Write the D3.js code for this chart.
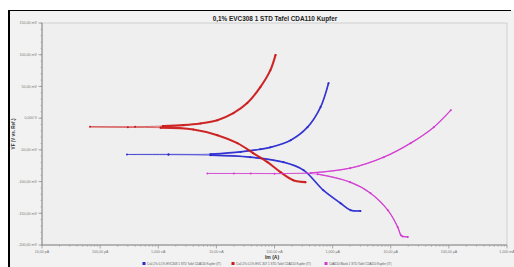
<!DOCTYPE html>
<html>
<head>
<meta charset="utf-8">
<script src="https://cdnjs.cloudflare.com/ajax/libs/d3/7.9.0/d3.min.js"></script>
<style>
  body { margin: 0; background: #fff; }
  svg text { font-family: "Liberation Sans", Arial, sans-serif; }
</style>
</head>
<body>
<div id="chart"></div>
<script>
// series names (legend)
const seriesNames = [
  "Cu0,1% 0,1% EVC308 1 STD Tafel CDA110 Kupfer (IT)",
  "Cu0,1% 0,1% EVC 307 1 STD Tafel CDA110 Kupfer (IT)",
  "CdA110 Blank 1 STD Tafel CDA110 Kupfer (IT)"
];
const seriesColors = ["#2a2ad0", "#cc1a1a", "#d23ad2"];

// current (A) and potential (mV), cathodic end -> tip -> anodic end
const blueI = [3.0e-6, 2.04e-6, 1.37e-6, 6.9e-7, 3.16e-7, 1.43e-7, 3.8e-8, 7.9e-9, 1.5e-9, 2.9e-10,
               1.5e-9, 7.9e-9, 2.6e-8, 5.7e-8, 8.5e-8, 1.9e-7, 3.7e-7, 6.2e-7, 8.5e-7];
const blueE = [-146.2, -145.1, -134.1, -113.6, -82.0, -69.4, -61.5, -58.4, -57.6, -57.3,
               -57.0, -56.8, -53.2, -49.0, -46.0, -34.7, -14.2, 17.4, 55.2];

const redI = [3.4e-7, 2.1e-7, 1.27e-7, 7.6e-8, 4.3e-8, 2.3e-8, 1.04e-8, 4.0e-9, 1.1e-9, 3e-10, 6.7e-11,
              4e-10, 1.2e-9, 2.7e-9, 5.3e-9, 1.04e-8, 1.96e-8, 3.4e-8, 5.7e-8, 8.5e-8, 1.04e-7];
const redE = [-100.9, -97.8, -85.2, -69.4, -55.2, -39.4, -26.8, -17.8, -15.0, -14.5, -13.7,
              -13.5, -12.5, -11.0, -8.4, -3.2, 7.9, 23.7, 48.9, 75.7, 99.4];

const magI = [1.96e-5, 1.6e-5, 1.49e-5, 1.32e-5, 8.9e-6, 4.5e-6, 2.0e-6, 5.5e-7, 1e-7, 2e-8, 7.0e-9,
              3.9e-8, 4.2e-7, 2.0e-6, 7.6e-6, 2.2e-5, 5.5e-5, 1.08e-4];
const magE = [-187.2, -186.5, -184.5, -171.9, -145.1, -118.3, -100.9, -88.3, -87.5, -87.3, -87.2,
              -87.2, -86.3, -78.9, -61.5, -39.4, -14.2, 12.6];

const xTickVals = [1e-11, 1e-10, 1e-9, 1e-8, 1e-7, 1e-6, 1e-5, 1e-4, 1e-3];
const xTickLabels = ["10,00 pA", "100,00 pA", "1,000 nA", "10,00 nA", "100,00 nA", "1,000 µA", "10,00 µA", "100,00 µA", "1,000 mA"];
const yTickVals = [150, 100, 50, 0, -50, -100, -150, -200];
const yTickLabels = ["150,00 mV", "100,00 mV", "50,00 mV", "0,000 V", "-50,00 mV", "-100,00 mV", "-150,00 mV", "-200,00 mV"];

const W = 514, H = 267;
const plot = { left: 42, right: 507, top: 23, bottom: 245 };

const svg = d3.select("#chart").append("svg")
  .attr("width", W).attr("height", H);

// panel background + frame
svg.append("rect").attr("x", 8).attr("y", 10).attr("width", W - 8).attr("height", H - 10).attr("fill", "#f2f2f2");
svg.append("line").attr("x1", 9).attr("x2", 9).attr("y1", 10).attr("y2", H).attr("stroke", "#000").attr("stroke-width", 2);
svg.append("line").attr("x1", 8).attr("x2", 511).attr("y1", 10.5).attr("y2", 10.5).attr("stroke", "#000").attr("stroke-width", 1.2);

const x = d3.scaleLog().domain([1e-11, 1e-3]).range([plot.left, plot.right]);
const y = d3.scaleLinear().domain([-200, 150]).range([plot.bottom, plot.top]);

svg.append("rect").attr("x", plot.left).attr("y", plot.top)
  .attr("width", plot.right - plot.left).attr("height", plot.bottom - plot.top)
  .attr("fill", "#efefef").attr("stroke", "#c8c8c8").attr("stroke-width", 0.8);

// title
svg.append("text").attr("x", 275).attr("y", 21).attr("text-anchor", "middle")
  .attr("font-size", 6.4).attr("font-weight", "bold").attr("fill", "#222")
  .text("0,1% EVC308 1 STD Tafel CDA110 Kupfer");

// y axis
const minorY = d3.range(-200, 151, 10);
const yAxis = svg.append("g").attr("transform", `translate(${plot.left},0)`);
yAxis.append("line").attr("y1", plot.top).attr("y2", plot.bottom).attr("stroke", "#888");
yAxis.selectAll(".ym").data(minorY).join("line")
  .attr("x1", -1.5).attr("x2", 0).attr("y1", d => y(d)).attr("y2", d => y(d))
  .attr("stroke", "#999").attr("stroke-width", 0.6);
yAxis.selectAll(".yM").data(yTickVals).join("line")
  .attr("x1", -3.5).attr("x2", 0).attr("y1", d => y(d)).attr("y2", d => y(d))
  .attr("stroke", "#888").attr("stroke-width", 0.7);
yAxis.selectAll("text").data(yTickVals).join("text")
  .attr("x", -5).attr("y", d => y(d) + 1.3).attr("text-anchor", "end")
  .attr("font-size", 3.6).attr("fill", "#777")
  .text((d, i) => yTickLabels[i]);

// x axis
const minorX = [];
xTickVals.forEach((v, i) => { if (i < xTickVals.length - 1) for (let k = 2; k < 10; k++) minorX.push(v * k); });
const xAxis = svg.append("g").attr("transform", `translate(0,${plot.bottom})`);
xAxis.append("line").attr("x1", plot.left).attr("x2", plot.right).attr("stroke", "#888");
xAxis.selectAll(".xm").data(minorX).join("line")
  .attr("x1", d => x(d)).attr("x2", d => x(d)).attr("y1", 0).attr("y2", 1.8)
  .attr("stroke", "#999").attr("stroke-width", 0.6);
xAxis.selectAll(".xM").data(xTickVals).join("line")
  .attr("x1", d => x(d)).attr("x2", d => x(d)).attr("y1", 0).attr("y2", 3.5)
  .attr("stroke", "#888").attr("stroke-width", 0.7);
xAxis.selectAll("text").data(xTickVals).join("text")
  .attr("x", d => x(d)).attr("y", 8).attr("text-anchor", "middle")
  .attr("font-size", 3.6).attr("fill", "#777")
  .text((d, i) => xTickLabels[i]);

// axis titles
svg.append("text").attr("x", 272).attr("y", 259).attr("text-anchor", "middle")
  .attr("font-size", 5).attr("font-weight", "bold").attr("fill", "#333").text("Im (A)");
svg.append("text").attr("transform", `translate(15,${(plot.top + plot.bottom) / 2}) rotate(-90)`)
  .attr("text-anchor", "middle").attr("font-size", 4.6).attr("font-weight", "bold").attr("fill", "#333")
  .text("VF (V vs. Ref.)");

// curves: thin near the corrosion potential, thick on the dense Tafel branches
const series = [
  { I: blueI, E: blueE, w: 1.7, cathEnd: 7, anodStart: 11 },
  { I: redI, E: redE, w: 2.1, cathEnd: 8, anodStart: 12 },
  { I: magI, E: magE, w: 1.3, cathEnd: 7, anodStart: 12 }
];
const line = d3.line().x(d => x(d[0])).y(d => y(d[1])).curve(d3.curveCatmullRom.alpha(0.5));
const clip = svg.append("clipPath").attr("id", "clip").append("rect")
  .attr("x", plot.left).attr("y", plot.top).attr("width", plot.right - plot.left).attr("height", plot.bottom - plot.top);
const g = svg.append("g").attr("clip-path", "url(#clip)");
series.forEach((s, i) => {
  const pts = s.I.map((v, j) => [v, s.E[j]]);
  g.append("path").datum(pts).attr("d", line)
    .attr("fill", "none").attr("stroke", seriesColors[i]).attr("stroke-width", 0.8)
    .attr("stroke-opacity", 0.8);
  [pts.slice(0, s.cathEnd + 1), pts.slice(s.anodStart)].forEach(part => {
    g.append("path").datum(part).attr("d", line)
      .attr("fill", "none").attr("stroke", seriesColors[i]).attr("stroke-width", s.w)
      .attr("stroke-linecap", "round").attr("stroke-opacity", 0.9);
  });
  g.selectAll(".m" + i).data(pts).join("circle")
    .attr("cx", d => x(d[0])).attr("cy", d => y(d[1])).attr("r", 1)
    .attr("fill", seriesColors[i]);
});

// legend
const legX = [144, 233, 326];
const leg = svg.append("g");
seriesNames.forEach((n, i) => {
  leg.append("rect").attr("x", legX[i] - 1.5).attr("y", 262).attr("width", 3).attr("height", 3).attr("fill", seriesColors[i]);
  leg.append("text").attr("x", legX[i] + 3).attr("y", 264.8).attr("font-size", 3).attr("fill", "#555").text(n);
});
</script>
</body>
</html>
